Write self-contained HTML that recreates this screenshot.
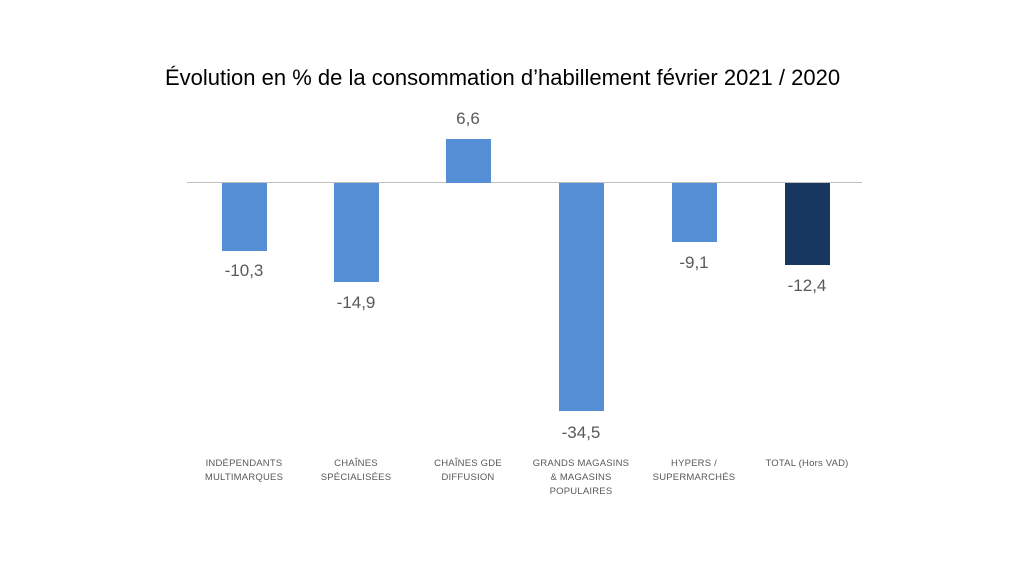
<!DOCTYPE html>
<html><head><meta charset="utf-8"><style>
body{margin:0;width:1024px;height:576px;background:#fff;position:relative;overflow:hidden;font-family:"Liberation Sans",sans-serif}
.t{position:absolute;left:165px;top:65px;white-space:nowrap;font-size:22px;color:#000}
.b{position:absolute;width:45px;background:#558ed5}
.v{position:absolute;width:100px;text-align:center;font-size:17px;color:#595959}
.c{position:absolute;width:120px;text-align:center;font-size:9.5px;color:#595959;line-height:14px;top:457px;letter-spacing:0.2px}
</style></head><body>
<div class="t">Évolution en % de la consommation d’habillement février 2021 / 2020</div>
<div style="position:absolute;left:187px;width:675px;top:182px;height:1px;background:#bfbfbf"></div>
<div class="b" style="left:222px;top:183px;height:68px"></div>
<div class="b" style="left:334px;top:183px;height:99px"></div>
<div class="b" style="left:446px;top:139px;height:44px"></div>
<div class="b" style="left:559px;top:183px;height:228px"></div>
<div class="b" style="left:672px;top:183px;height:59px"></div>
<div class="b" style="left:785px;top:183px;height:82px;background:#17375e"></div>
<div class="v" style="left:194px;top:261px">-10,3</div>
<div class="v" style="left:306px;top:293px">-14,9</div>
<div class="v" style="left:418px;top:109px">6,6</div>
<div class="v" style="left:531px;top:423px">-34,5</div>
<div class="v" style="left:644px;top:253px">-9,1</div>
<div class="v" style="left:757px;top:276px">-12,4</div>
<div class="c" style="left:184px">INDÉPENDANTS<br>MULTIMARQUES</div>
<div class="c" style="left:296px">CHAÎNES<br>SPÉCIALISÉES</div>
<div class="c" style="left:408px">CHAÎNES GDE<br>DIFFUSION</div>
<div class="c" style="left:521px">GRANDS MAGASINS<br>&amp; MAGASINS<br>POPULAIRES</div>
<div class="c" style="left:634px">HYPERS /<br>SUPERMARCHÉS</div>
<div class="c" style="left:747px">TOTAL (Hors VAD)</div>
</body></html>
